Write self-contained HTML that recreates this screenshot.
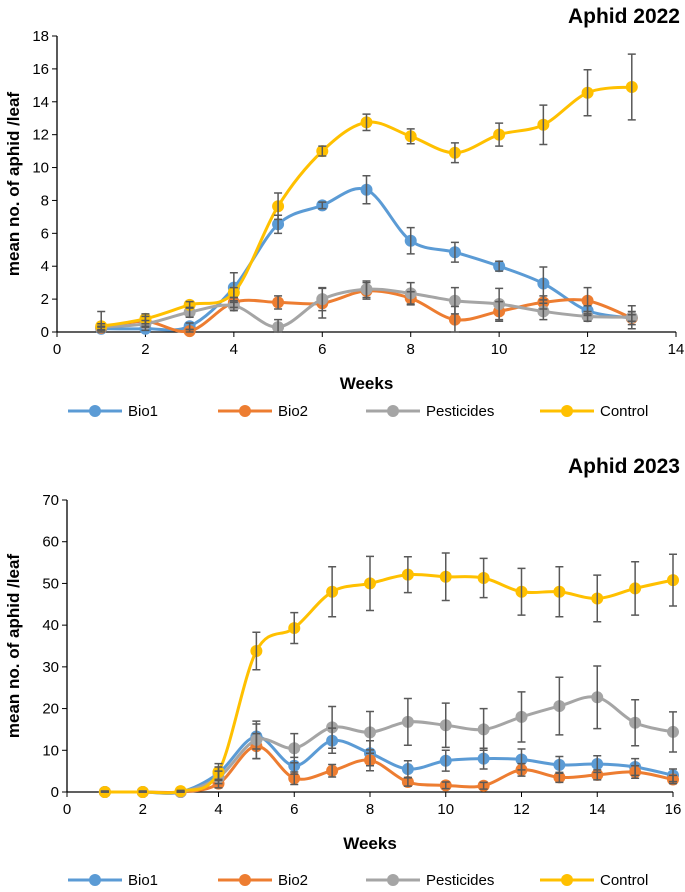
<!DOCTYPE html>
<html><head><meta charset="utf-8"><style>
body{margin:0;background:#fff;width:685px;height:887px;overflow:hidden}
svg{font-family:"Liberation Sans",sans-serif}
</style></head><body>
<svg id="svg" width="685" height="887"></svg>
<script>
const weeks1=[1,2,3,4,5,6,7,8,9,10,11,12,13];
const bio1_2022=[0.2,0.2,0.35,2.7,6.55,7.7,8.65,5.55,4.85,4.0,2.95,1.3,0.85];
const bio1_2022_err=[0.1,0.1,0.2,0.9,0.55,0.2,0.85,0.8,0.6,0.3,1.0,0.3,0.2];
const bio2_2022=[0.25,0.65,0.05,1.8,1.8,1.75,2.5,2.05,0.75,1.25,1.8,1.9,0.85];
const bio2_2022_err=[0.1,0.3,0.1,0.3,0.4,0.9,0.5,0.4,0.8,0.6,0.4,0.8,0.4];
const pest_2022=[0.3,0.5,1.2,1.6,0.3,2.0,2.6,2.35,1.9,1.7,1.25,0.95,0.9];
const pest_2022_err=[0.2,0.2,0.3,0.3,0.45,0.7,0.5,0.65,0.8,0.95,0.5,0.3,0.7];
const ctrl_2022=[0.35,0.8,1.65,2.4,7.65,11,12.75,11.9,10.9,12,12.6,14.55,14.9];
const ctrl_2022_err=[0.9,0.3,0.2,0.3,0.8,0.3,0.5,0.45,0.6,0.7,1.2,1.4,2.0];
const yTicks1=[0,2,4,6,8,10,12,14,16,18];
const xTicks1=[0,2,4,6,8,10,12,14];

const weeks2=[1,2,3,4,5,6,7,8,9,10,11,12,13,14,15,16];
const bio1_2023=[0,0,0,4.5,13.3,6.3,12.3,9.3,5.5,7.5,8,7.8,6.5,6.7,6,4];
const bio1_2023_err=[0.2,0.2,0.2,1.5,3,2,3,3,2,2.5,2.5,2.5,2,2,2,1.5];
const bio2_2023=[0,0,0,2,11,3.3,5.1,7.6,2.4,1.6,1.5,5.3,3.5,4.1,4.8,3];
const bio2_2023_err=[0.1,0.1,0.1,1,3,1.5,1.5,2.5,1,0.8,0.8,1.5,1.2,1.2,1.5,1];
const pest_2023=[0,0,0,3.5,12.5,10.5,15.5,14.3,16.8,16,15,18,20.6,22.7,16.6,14.4];
const pest_2023_err=[0.2,0.2,0.2,1.5,4.5,3.5,5,5,5.6,5.3,5,6,6.9,7.5,5.5,4.8];
const ctrl_2023=[0,0,0.2,4.8,33.8,39.3,48,50,52.1,51.6,51.3,48,48,46.4,48.8,50.8];
const ctrl_2023_err=[0.2,0.2,0.2,2,4.5,3.7,6,6.5,4.3,5.7,4.7,5.6,6,5.6,6.4,6.2];
const yTicks2=[0,10,20,30,40,50,60,70];
const xTicks2=[0,2,4,6,8,10,12,14,16];

const NS="http://www.w3.org/2000/svg";
const svg=document.getElementById('svg');
function mk(tag,attrs,parent,text){const e=document.createElementNS(NS,tag);for(const k in attrs)e.setAttribute(k,attrs[k]);if(text!==undefined)e.textContent=text;(parent||svg).appendChild(e);return e;}
function smooth(pts){let d='M'+pts[0][0]+','+pts[0][1];for(let i=0;i<pts.length-1;i++){const p0=pts[i-1]||pts[i],p1=pts[i],p2=pts[i+1],p3=pts[i+2]||p2;const c1=[p1[0]+(p2[0]-p0[0])/6,p1[1]+(p2[1]-p0[1])/6];const c2=[p2[0]-(p3[0]-p1[0])/6,p2[1]-(p3[1]-p1[1])/6];d+=' C'+c1+' '+c2+' '+p2;}return d;}

function chart(cfg){
 const g=mk('g',{});
 
 
 const sx=v=>cfg.x0+(v-cfg.xmin)/(cfg.xmax-cfg.xmin)*(cfg.x1-cfg.x0);
 const sy=v=>cfg.y0-(v/cfg.ymax)*(cfg.y0-cfg.y1);
 const t=mk('text',{x:680,y:cfg.titleY,'text-anchor':'end','font-size':21,'font-weight':600,fill:'#000'},g,cfg.title);
 
 mk('line',{x1:cfg.x0,y1:cfg.y0,x2:cfg.x0,y2:cfg.y1,stroke:'#000','stroke-width':1.3},g);
 mk('line',{x1:cfg.x0,y1:cfg.y0,x2:cfg.x1,y2:cfg.y0,stroke:'#000','stroke-width':1.3},g);
 cfg.yTicks.forEach(v=>{const y=sy(v);mk('line',{x1:cfg.x0-5,y1:y,x2:cfg.x0,y2:y,stroke:'#000'},g);
  const l=mk('text',{x:cfg.x0-8,y:y+5,'text-anchor':'end','font-size':15},g,v);});
 cfg.xTicks.forEach(v=>{const x=sx(v);mk('line',{x1:x,y1:cfg.y0,x2:x,y2:cfg.y0+5,stroke:'#000'},g);
  const l=mk('text',{x:x,y:cfg.y0+22,'text-anchor':'middle','font-size':15},g,v);});
 const xt=mk('text',{x:(cfg.x0+cfg.x1)/2,y:cfg.y0+57,'text-anchor':'middle','font-size':17,'font-weight':'bold'},g,'Weeks');
 
 const cy=(cfg.y0+cfg.y1)/2;
 const yt=mk('text',{x:0,y:0,transform:`translate(19,${cy}) rotate(-90)`,'text-anchor':'middle','font-size':17,'font-weight':'bold'},g,'mean no. of aphid /leaf');
 
 cfg.series.forEach(s=>{
  const sg=mk('g',{},g);
  const pts=cfg.weeks.map((w,i)=>[sx(w),sy(s.vals[i])]);
  mk('path',{d:smooth(pts),fill:'none',stroke:s.color,'stroke-width':3},sg);
  cfg.weeks.forEach((w,i)=>{const c=mk('circle',{cx:sx(w),cy:sy(s.vals[i]),r:6,fill:s.color},sg);
   });
 });
 cfg.series.forEach(s=>{
  cfg.weeks.forEach((w,i)=>{const x=sx(w),hi=sy(s.vals[i]+s.err[i]),lo=sy(Math.max(0,s.vals[i]-s.err[i]));
   const e=mk('path',{d:`M${x},${hi}V${lo}M${x-4},${hi}H${x+4}M${x-4},${lo}H${x+4}`,stroke:'#595959','stroke-width':1.5,fill:'none'},g);
   });
 });
 const lg=mk('g',{},g);
 const lx=[68,218,366,540];
 cfg.series.forEach((s,i)=>{const eg=mk('g',{},lg);
  mk('line',{x1:lx[i],y1:cfg.legY,x2:lx[i]+54,y2:cfg.legY,stroke:s.color,'stroke-width':3},eg);
  mk('circle',{cx:lx[i]+27,cy:cfg.legY,r:6,fill:s.color},eg);
  mk('text',{x:lx[i]+60,y:cfg.legY+5,'font-size':15},eg,s.label);});
}
chart({name:'chart-2022',title:'Aphid 2022',titleY:23,x0:57,x1:676,xmin:0,xmax:14,y0:332,y1:36,ymax:18,weeks:weeks1,yTicks:yTicks1,xTicks:xTicks1,legY:411,
 series:[{key:'bio1',label:'Bio1',color:'#5B9BD5',vals:bio1_2022,err:bio1_2022_err},
 {key:'bio2',label:'Bio2',color:'#ED7D31',vals:bio2_2022,err:bio2_2022_err},
 {key:'pesticides',label:'Pesticides',color:'#A5A5A5',vals:pest_2022,err:pest_2022_err},
 {key:'control',label:'Control',color:'#FFC000',vals:ctrl_2022,err:ctrl_2022_err}]
});
chart({name:'chart-2023',title:'Aphid 2023',titleY:473,x0:67,x1:673,xmin:0,xmax:16,y0:792,y1:500,ymax:70,weeks:weeks2,yTicks:yTicks2,xTicks:xTicks2,legY:880,
 series:[{key:'bio1',label:'Bio1',color:'#5B9BD5',vals:bio1_2023,err:bio1_2023_err},
 {key:'bio2',label:'Bio2',color:'#ED7D31',vals:bio2_2023,err:bio2_2023_err},
 {key:'pesticides',label:'Pesticides',color:'#A5A5A5',vals:pest_2023,err:pest_2023_err},
 {key:'control',label:'Control',color:'#FFC000',vals:ctrl_2023,err:ctrl_2023_err}]
});
</script>
</body></html>
